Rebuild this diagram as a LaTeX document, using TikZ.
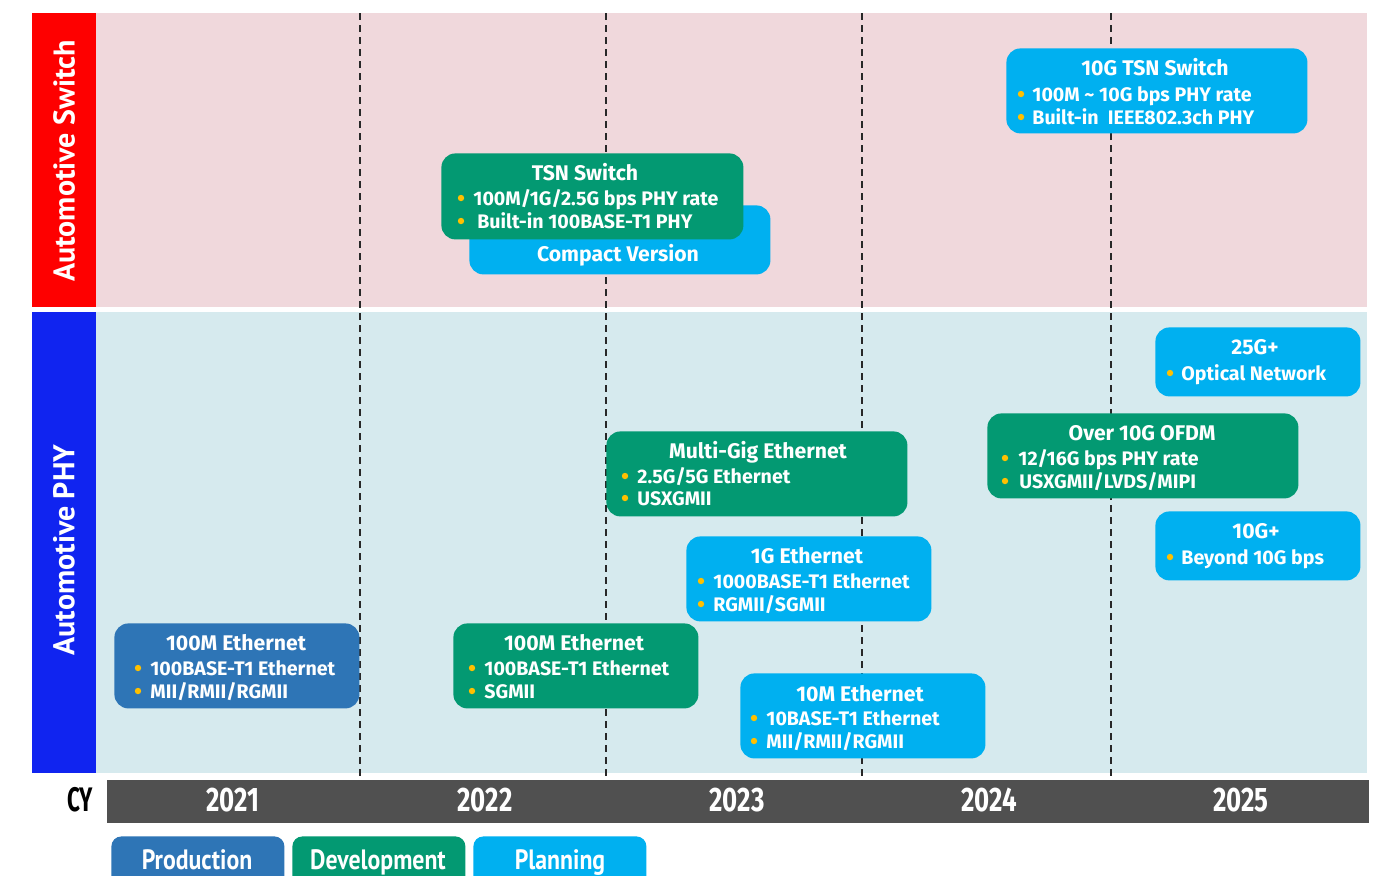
\documentclass[tikz,border=0pt]{standalone}
\usepackage{fontspec}
\setmainfont{PT Sans}
\newfontfamily\cardfont{Fira Sans}
\usepackage{graphicx}
\definecolor{bandred}{RGB}{254,0,0}
\definecolor{bandblue}{RGB}{16,36,240}
\definecolor{pinkbg}{RGB}{240,216,220}
\definecolor{bluebg}{RGB}{214,234,238}
\definecolor{prod}{RGB}{46,117,182}
\definecolor{dev}{RGB}{3,153,114}
\definecolor{plan}{RGB}{0,176,240}
\definecolor{dotc}{RGB}{255,192,0}
\definecolor{axisgray}{RGB}{80,80,80}
\definecolor{dashgray}{RGB}{40,40,40}
\tikzset{
  card/.style={rounded corners=7pt, anchor=north west, inner sep=0pt, draw=none},
  ttl/.style={text=white, font=\cardfont\bfseries\fontsize{10.6}{12}\selectfont, anchor=center,
    inner sep=0pt, text height=0.69em, text depth=0pt, yshift=-0.8pt},
  itm/.style={text=white, font=\cardfont\bfseries\fontsize{9.8}{11}\selectfont, anchor=west,
    inner sep=0pt, text height=0.69em, text depth=0pt, yshift=-0.6pt},
  yearsep/.style={draw=dashgray, line width=0.7pt, dash pattern=on 3.5pt off 2.5pt},
  yr/.style={text=white, font=\cardfont\bfseries\fontsize{17}{19}\selectfont, inner sep=0pt,
    text height=0.69em, text depth=0pt},
  legend/.style={rounded corners=5pt, anchor=north west, inner sep=0pt, minimum height=30pt,
    minimum width=86.5pt},
  legtext/.style={text=white, font=\bfseries\fontsize{14}{16}\selectfont, inner sep=0pt,
    text height=0.7em, text depth=0pt},
}
% one bullet line: name, dot x, text x, y, text
\newcommand{\entry}[5]{%
  \node[itm] (#1) at (#3,#4) {#5};
  \fill[dotc] (#2,#4+1) circle (1.6pt);}
\begin{document}
\begin{tikzpicture}[x=0.5pt,y=-0.5pt]
\clip (0,0) rectangle (1381,875);
\fill[white] (0,0) rectangle (1381,875);

% category bands
\fill[pinkbg] (96,13) rectangle (1367,307);
\fill[bluebg] (96,312) rectangle (1367,773);
\node[fill=bandred, anchor=north west, inner sep=0pt, minimum width=32pt, minimum height=147pt] (swband) at (32,13) {};
\node[fill=bandblue, anchor=north west, inner sep=0pt, minimum width=32pt, minimum height=230.5pt] (phyband) at (32,312) {};
\node[rotate=90, text=white, font=\bfseries\fontsize{15}{17}\selectfont] (swlabel) at (64,161) {Automotive Switch};
\node[rotate=90, text=white, font=\bfseries\fontsize{15}{17}\selectfont] (phylabel) at (64,550) {Automotive PHY};

% year boundaries
\coordinate (b1t) at (360,13);  \coordinate (b1b) at (360,780);
\coordinate (b2t) at (606,13);  \coordinate (b2b) at (606,780);
\coordinate (b3t) at (862,13);  \coordinate (b3b) at (862,780);
\coordinate (b4t) at (1111,13); \coordinate (b4b) at (1111,780);
\draw[yearsep] (b1t) -- (b1b);
\draw[yearsep] (b2t) -- (b2b);
\draw[yearsep] (b3t) -- (b3b);
\draw[yearsep] (b4t) -- (b4b);

% calendar-year axis
\node[fill=axisgray, anchor=north west, inner sep=0pt, minimum width=631pt, minimum height=21.5pt] (axis) at (107,780) {};
\node[font=\cardfont\bfseries\fontsize{17}{19}\selectfont, inner sep=0pt, text height=0.69em, text depth=0pt] (cy) at (80,805) {\scalebox{0.66}[1]{CY}};
\node[yr] (y2021) at (233,805) {\scalebox{0.76}[1]{2021}};
\node[yr] (y2022) at (485,805) {\scalebox{0.76}[1]{2022}};
\node[yr] (y2023) at (737,805) {\scalebox{0.76}[1]{2023}};
\node[yr] (y2024) at (989,805) {\scalebox{0.76}[1]{2024}};
\node[yr] (y2025) at (1241,805) {\scalebox{0.76}[1]{2025}};

% ---- Automotive Switch ----
\node[card, fill=plan, minimum width=150.5pt, minimum height=42.5pt] (sw10g) at (1006,48) {};
\node[ttl] (sw10gT) at (1155,67) {10G TSN Switch};
\entry{sw10gA}{1021}{1032}{93}{100M \textasciitilde\ 10G bps PHY rate}
\entry{sw10gB}{1021}{1032}{116}{Built-in\ \ IEEE802.3ch PHY}

\node[card, fill=plan, minimum width=150.5pt, minimum height=34.5pt] (compact) at (469,205) {};
\node[ttl] (compactT) at (618,253) {Compact Version};
\node[card, fill=dev, minimum width=151pt, minimum height=43pt] (tsn) at (441,153) {};
\node[ttl] (tsnT) at (585,172) {TSN Switch};
\entry{tsnA}{461}{473}{197}{100M/1G/2.5G bps PHY rate}
\entry{tsnB}{461}{477}{220}{Built-in 100BASE-T1 PHY}

% ---- Automotive PHY ----
\node[card, fill=plan, minimum width=102.5pt, minimum height=34.5pt] (g25) at (1155,327) {};
\node[ttl] (g25T) at (1255,346) {25G+};
\entry{g25A}{1170}{1181}{372}{Optical Network}

\node[card, fill=dev, minimum width=155.5pt, minimum height=42.5pt] (ofdm) at (987,413) {};
\node[ttl] (ofdmT) at (1142,432) {Over 10G OFDM};
\entry{ofdmA}{1005}{1018}{457}{12/16G bps PHY rate}
\entry{ofdmB}{1005}{1019}{480}{USXGMII/LVDS/MIPI}

\node[card, fill=plan, minimum width=102.5pt, minimum height=34.5pt] (g10) at (1155,511) {};
\node[ttl] (g10T) at (1256,530) {10G+};
\entry{g10A}{1170}{1181}{556}{Beyond 10G bps}

\node[card, fill=dev, minimum width=150.5pt, minimum height=42.5pt] (mgig) at (606,431) {};
\node[ttl] (mgigT) at (758,450) {Multi-Gig Ethernet};
\entry{mgigA}{625}{637}{475}{2.5G/5G Ethernet}
\entry{mgigB}{625}{637}{497}{USXGMII}

\node[card, fill=plan, minimum width=122.5pt, minimum height=42.5pt] (g1) at (686,536) {};
\node[ttl] (g1T) at (807,555) {1G Ethernet};
\entry{g1A}{701}{713}{580}{1000BASE-T1 Ethernet}
\entry{g1B}{701}{713}{603}{RGMII/SGMII}

\node[card, fill=prod, minimum width=122.5pt, minimum height=42.5pt] (m100p) at (114,623) {};
\node[ttl] (m100pT) at (236,642) {100M Ethernet};
\entry{m100pA}{138}{150}{667}{100BASE-T1 Ethernet}
\entry{m100pB}{138}{150}{690}{MII/RMII/RGMII}

\node[card, fill=dev, minimum width=122.5pt, minimum height=42.5pt] (m100d) at (453,623) {};
\node[ttl] (m100dT) at (574,642) {100M Ethernet};
\entry{m100dA}{472}{484}{667}{100BASE-T1 Ethernet}
\entry{m100dB}{472}{484}{690}{SGMII}

\node[card, fill=plan, minimum width=122.5pt, minimum height=42.5pt] (m10) at (740,673) {};
\node[ttl] (m10T) at (860,693) {10M Ethernet};
\entry{m10A}{754}{766}{717}{10BASE-T1 Ethernet}
\entry{m10B}{754}{766}{740}{MII/RMII/RGMII}

% ---- legend ----
\node[legend, fill=prod] (lprod) at (111,836) {};
\node[legend, fill=dev] (ldev) at (292,836) {};
\node[legend, fill=plan] (lplan) at (473,836) {};
\node[legtext] (lprodT) at (197,862) {\scalebox{0.85}[1]{Production}};
\node[legtext] (ldevT) at (378,862) {\scalebox{0.85}[1]{Development}};
\node[legtext] (lplanT) at (560,862) {\scalebox{0.85}[1]{Planning}};
\end{tikzpicture}
\end{document}
